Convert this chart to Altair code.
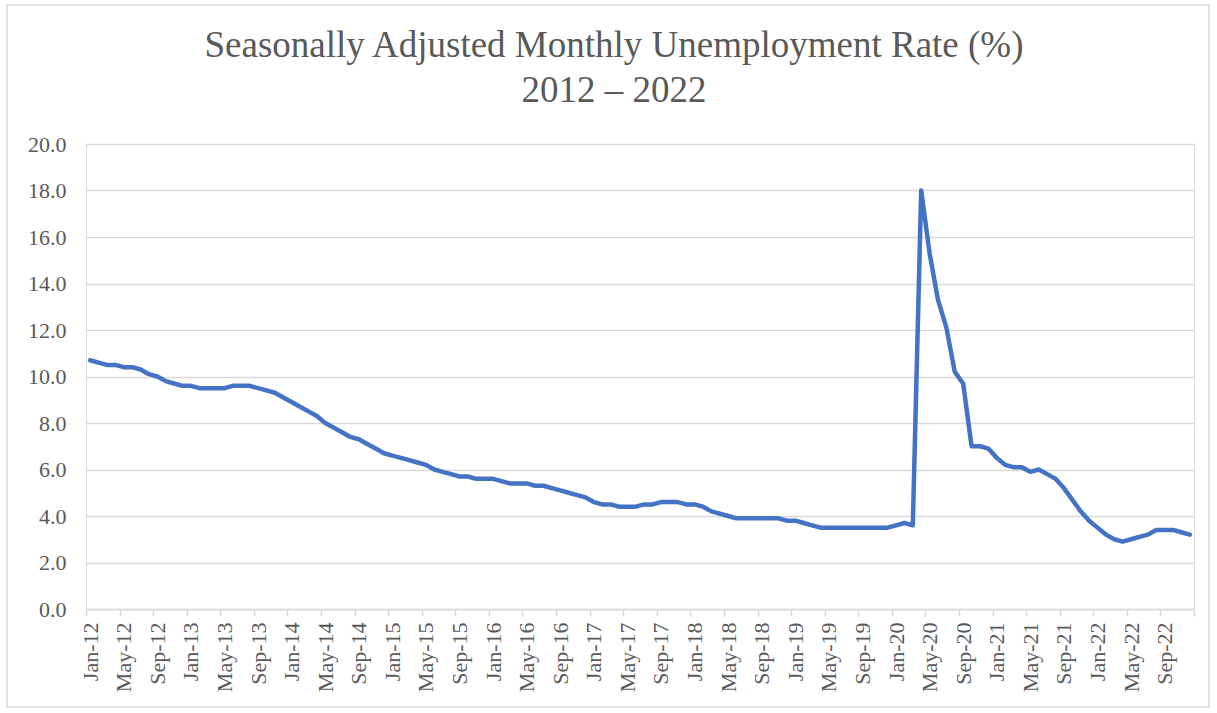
import altair as alt
import pandas as pd

# Monthly unemployment rate (%), Jan-2012 .. Dec-2022 (132 months)
rates = [
    10.7, 10.6, 10.5, 10.5, 10.4, 10.4, 10.3, 10.1, 10.0, 9.8, 9.7, 9.6,   # 2012
    9.6, 9.5, 9.5, 9.5, 9.5, 9.6, 9.6, 9.6, 9.5, 9.4, 9.3, 9.1,            # 2013
    8.9, 8.7, 8.5, 8.3, 8.0, 7.8, 7.6, 7.4, 7.3, 7.1, 6.9, 6.7,            # 2014
    6.6, 6.5, 6.4, 6.3, 6.2, 6.0, 5.9, 5.8, 5.7, 5.7, 5.6, 5.6,            # 2015
    5.6, 5.5, 5.4, 5.4, 5.4, 5.3, 5.3, 5.2, 5.1, 5.0, 4.9, 4.8,            # 2016
    4.6, 4.5, 4.5, 4.4, 4.4, 4.4, 4.5, 4.5, 4.6, 4.6, 4.6, 4.5,            # 2017
    4.5, 4.4, 4.2, 4.1, 4.0, 3.9, 3.9, 3.9, 3.9, 3.9, 3.9, 3.8,            # 2018
    3.8, 3.7, 3.6, 3.5, 3.5, 3.5, 3.5, 3.5, 3.5, 3.5, 3.5, 3.5,            # 2019
    3.6, 3.7, 3.6, 18.0, 15.3, 13.3, 12.1, 10.2, 9.7, 7.0, 7.0, 6.9,       # 2020
    6.5, 6.2, 6.1, 6.1, 5.9, 6.0, 5.8, 5.6, 5.2, 4.7, 4.2, 3.8,            # 2021
    3.5, 3.2, 3.0, 2.9, 3.0, 3.1, 3.2, 3.4, 3.4, 3.4, 3.3, 3.2,            # 2022
]
month_index = list(range(len(rates)))

tick_labels = [
    "Jan-12", "May-12", "Sep-12", "Jan-13", "May-13", "Sep-13",
    "Jan-14", "May-14", "Sep-14", "Jan-15", "May-15", "Sep-15",
    "Jan-16", "May-16", "Sep-16", "Jan-17", "May-17", "Sep-17",
    "Jan-18", "May-18", "Sep-18", "Jan-19", "May-19", "Sep-19",
    "Jan-20", "May-20", "Sep-20", "Jan-21", "May-21", "Sep-21",
    "Jan-22", "May-22", "Sep-22",
]
y_ticks = [0, 2, 4, 6, 8, 10, 12, 14, 16, 18, 20]

title_lines = ["Seasonally Adjusted Monthly Unemployment Rate (%)", "2012 \u2013 2022"]

df = pd.DataFrame({"m": month_index, "rate": rates})

# tick boundaries between categories every 4 months, plus the closing one
tick_vals = [i * 4 - 0.5 for i in range(len(tick_labels))] + [len(rates) - 0.5]
label_arr = "[" + ",".join("'" + t + "'" for t in tick_labels) + ",'']"
label_expr = label_arr + "[round((datum.value + 0.5) / 4)]"

W, H = 1108, 465
FONT = "Liberation Serif"
GREY = "#595959"
LIGHT = "#d9d9d9"

x_enc = alt.X(
    "m:Q",
    scale=alt.Scale(domain=[-0.5, len(rates) - 0.5], nice=False, zero=False),
    axis=alt.Axis(
        values=tick_vals,
        labelExpr=label_expr,
        labelAngle=-90,
        labelOffset=4.2,
        labelFont=FONT,
        labelFontSize=22,
        labelColor=GREY,
        labelPadding=6,
        labelOverlap=False,
        labelBound=False,
        labelFlush=False,
        grid=False,
        domainColor=LIGHT,
        domainWidth=1.5,
        tickColor=LIGHT,
        tickWidth=1.5,
        tickSize=7,
        title=None,
    ),
)
y_enc = alt.Y(
    "rate:Q",
    scale=alt.Scale(domain=[0, 20], nice=False),
    axis=alt.Axis(
        values=y_ticks,
        format=".1f",
        labelFont=FONT,
        labelFontSize=22,
        labelColor=GREY,
        labelPadding=20,
        ticks=False,
        domain=False,
        gridColor=LIGHT,
        gridWidth=1.5,
        title=None,
    ),
)

line = alt.Chart(df).mark_line(
    color="#4472C4", strokeWidth=4.5, strokeJoin="round", strokeCap="round"
).encode(x=x_enc, y=y_enc)

border = alt.Chart(pd.DataFrame({"a": [0]})).mark_rect(
    fill=None, fillOpacity=0, stroke=LIGHT, strokeWidth=1.5
).encode(
    x=alt.value(-79), x2=alt.value(1123), y=alt.value(-139), y2=alt.value(563)
)

chart = alt.layer(border, line).properties(
    width=W,
    height=H,
    autosize=alt.AutoSizeParams(type="none"),
    padding={"left": 86, "top": 144, "right": 23, "bottom": 104},
    title=alt.TitleParams(
        text=title_lines,
        font=FONT,
        fontSize=37,
        fontWeight="normal",
        color=GREY,
        anchor="middle",
        dx=-26,
        offset=-106,
        lineHeight=45,
    ),
).configure_view(stroke=None).configure(background="white")

chart.save("out.html", embed_options={"renderer": "svg", "actions": False})
